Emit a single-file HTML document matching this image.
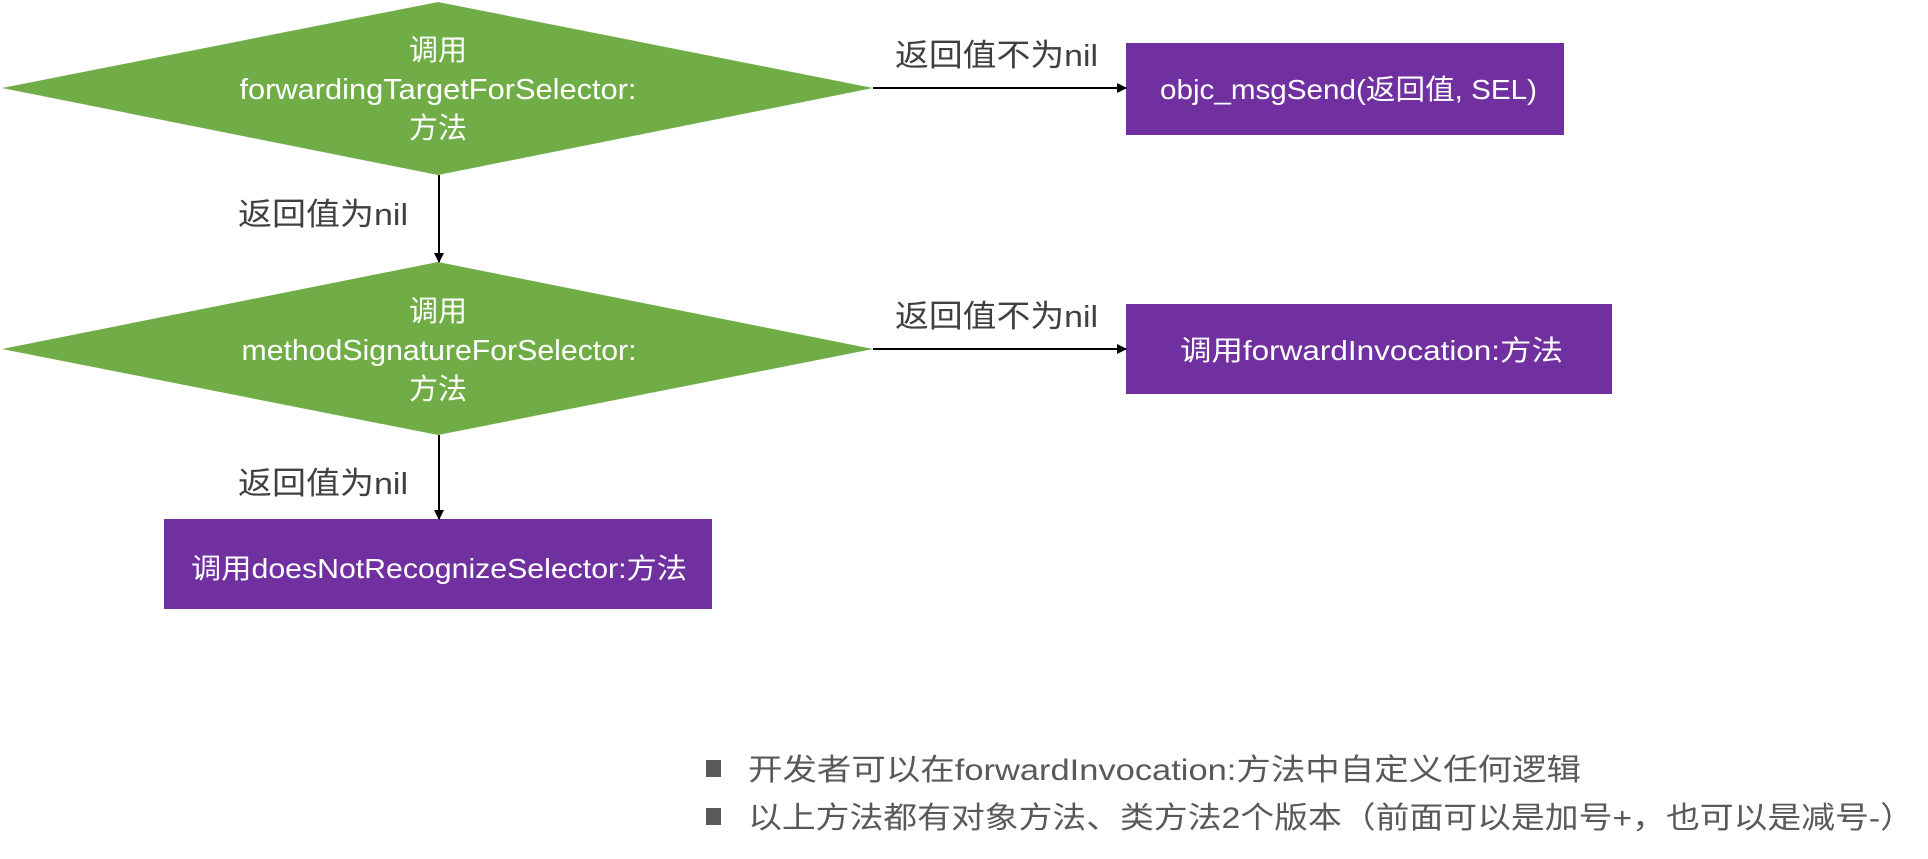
<!DOCTYPE html>
<html><head><meta charset="utf-8"><style>html,body{margin:0;padding:0;background:#fff;}svg{display:block}</style></head>
<body>
<svg width="1928" height="859" viewBox="0 0 1928 859" xmlns="http://www.w3.org/2000/svg" font-family="'Liberation Sans','Noto Sans CJK SC',sans-serif">
<defs><marker id="a" markerWidth="10" markerHeight="10" refX="9" refY="5" orient="auto" markerUnits="userSpaceOnUse"><path d="M0,0 L10,5 L0,10 z" fill="#000"/></marker></defs>
<polygon points="2,88 438,2 873,88 438,175" fill="#70ad47"/>
<polygon points="2,349 438,262 873,349 438,435" fill="#70ad47"/>
<rect x="1126" y="43" width="438" height="92" fill="#7030a0"/>
<rect x="1126" y="304" width="486" height="90" fill="#7030a0"/>
<rect x="164" y="519" width="548" height="90" fill="#7030a0"/>
<line x1="873" y1="88" x2="1126" y2="88" stroke="#000" stroke-width="2" marker-end="url(#a)"/>
<line x1="873" y1="349" x2="1126" y2="349" stroke="#000" stroke-width="2" marker-end="url(#a)"/>
<line x1="439" y1="175" x2="439" y2="262" stroke="#000" stroke-width="2" marker-end="url(#a)"/>
<line x1="439" y1="435" x2="439" y2="519" stroke="#000" stroke-width="2" marker-end="url(#a)"/>
<g fill="#fff" font-size="29" text-anchor="middle">
<text x="438" y="60">调用</text>
<text x="438" y="99" textLength="397" lengthAdjust="spacingAndGlyphs">forwardingTargetForSelector:</text>
<text x="438" y="138">方法</text>
<text x="438" y="321">调用</text>
<text x="439" y="360" textLength="395" lengthAdjust="spacingAndGlyphs">methodSignatureForSelector:</text>
<text x="438" y="399">方法</text>
</g>
<g fill="#fff" font-size="28">
<text x="1160" y="99" textLength="377" lengthAdjust="spacingAndGlyphs">objc_msgSend(返回值, SEL)</text>
<text x="1180" y="360" textLength="383" lengthAdjust="spacingAndGlyphs">调用forwardInvocation:方法</text>
<text x="191" y="578" textLength="496" lengthAdjust="spacingAndGlyphs">调用doesNotRecognizeSelector:方法</text>
</g>
<g fill="#404040" font-size="31">
<text x="895" y="66" textLength="203" lengthAdjust="spacingAndGlyphs">返回值不为nil</text>
<text x="895" y="327" textLength="203" lengthAdjust="spacingAndGlyphs">返回值不为nil</text>
<text x="238" y="225" textLength="170" lengthAdjust="spacingAndGlyphs">返回值为nil</text>
<text x="238" y="494" textLength="170" lengthAdjust="spacingAndGlyphs">返回值为nil</text>
</g>
<rect x="706" y="760" width="15" height="17" fill="#595959"/>
<rect x="706" y="808" width="15" height="17" fill="#595959"/>
<g fill="#595959" font-size="30">
<text x="748" y="780" textLength="833" lengthAdjust="spacingAndGlyphs">开发者可以在forwardInvocation:方法中自定义任何逻辑</text>
<text x="748" y="828" textLength="1166" lengthAdjust="spacingAndGlyphs">以上方法都有对象方法、类方法2个版本（前面可以是加号+，也可以是减号-）</text>
</g>
</svg>
</body></html>
